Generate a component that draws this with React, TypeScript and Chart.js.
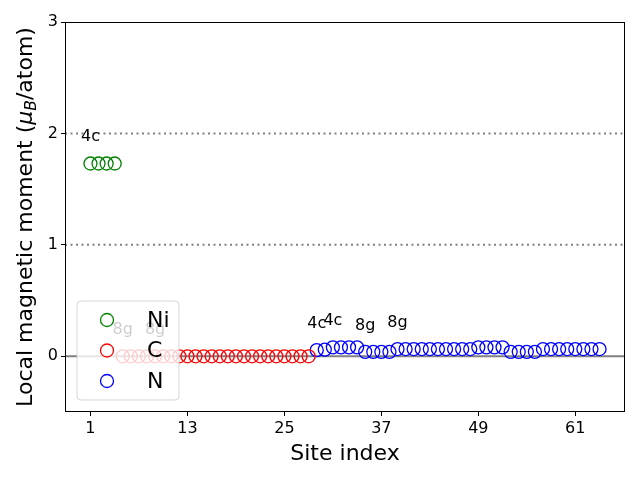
import React, { useEffect, useRef } from "react";
import { Chart, registerables } from "chart.js";

Chart.register(...registerables);

const niSites = [1, 2, 3, 4];
const niMoments = [1.73, 1.73, 1.73, 1.73];

const cSites = [5, 6, 7, 8, 9, 10, 11, 12, 13, 14, 15, 16, 17, 18, 19, 20, 21, 22, 23, 24, 25, 26, 27, 28];
const cMoments = [0, 0, 0, 0, 0, 0, 0, 0, 0, 0, 0, 0, 0, 0, 0, 0, 0, 0, 0, 0, 0, 0, 0, 0];

const nSites = [29, 30, 31, 32, 33, 34, 35, 36, 37, 38, 39, 40, 41, 42, 43, 44, 45, 46, 47, 48, 49, 50, 51, 52, 53, 54, 55, 56, 57, 58, 59, 60, 61, 62, 63, 64];
const nMoments = [
  0.055, 0.06, 0.08, 0.08, 0.08, 0.08, 0.04, 0.04, 0.04, 0.04,
  0.065, 0.065, 0.065, 0.065, 0.065, 0.065, 0.065, 0.065, 0.065, 0.065,
  0.08, 0.08, 0.08, 0.08, 0.04, 0.04, 0.04, 0.04,
  0.065, 0.065, 0.065, 0.065, 0.065, 0.065, 0.065, 0.065,
];

const seriesNames = ["Ni", "C", "N"];
const seriesColors = ["green", "red", "blue"];

const xTicks = [1, 13, 25, 37, 49, 61];
const yTicks = [0, 1, 2, 3];
const xMin = -2.15;
const xMax = 67.15;
const yMin = -0.5;
const yMax = 3;

const wyckoffSites = [1, 5, 9, 29, 31, 35, 39];
const wyckoffLabels = ["4c", "8g", "8g", "4c", "4c", "8g", "8g"];
const labelOffset = 0.235;

const dottedLevels = [1, 2];
const baseLevel = 0;

const xTitle = "Site index";
const yTitleParts = ["Local magnetic moment (", "μ", "B", "/atom)"];

const FONT = "'DejaVu Sans', sans-serif";

function momentAt(site: number): number {
  let i = niSites.indexOf(site);
  if (i >= 0) return niMoments[i];
  i = cSites.indexOf(site);
  if (i >= 0) return cMoments[i];
  i = nSites.indexOf(site);
  if (i >= 0) return nMoments[i];
  return 0;
}

const decorPlugin = {
  id: "decor",
  beforeDatasetsDraw(chart: any) {
    const { ctx, chartArea, scales } = chart;
    const y = scales.y;
    ctx.save();
    ctx.beginPath();
    ctx.rect(chartArea.left, chartArea.top, chartArea.right - chartArea.left, chartArea.bottom - chartArea.top);
    ctx.clip();
    ctx.strokeStyle = "gray";
    ctx.lineWidth = 2;
    ctx.setLineDash([2, 3.5]);
    for (const v of dottedLevels) {
      const py = y.getPixelForValue(v);
      ctx.beginPath();
      ctx.moveTo(chartArea.left, py);
      ctx.lineTo(chartArea.right, py);
      ctx.stroke();
    }
    ctx.setLineDash([]);
    const p0 = y.getPixelForValue(baseLevel);
    ctx.beginPath();
    ctx.moveTo(chartArea.left, p0);
    ctx.lineTo(chartArea.right, p0);
    ctx.stroke();
    ctx.restore();
  },
  afterDatasetsDraw(chart: any) {
    const { ctx, chartArea, scales } = chart;
    const x = scales.x;
    const y = scales.y;
    ctx.save();
    ctx.fillStyle = "#000";
    ctx.font = `16px ${FONT}`;
    ctx.textAlign = "center";
    ctx.textBaseline = "middle";
    wyckoffSites.forEach((s, i) => {
      ctx.fillText(wyckoffLabels[i], x.getPixelForValue(s), y.getPixelForValue(momentAt(s) + labelOffset));
    });
    const bx = chartArea.left + 12;
    const bw = 102;
    const bh = 99;
    const by = chartArea.bottom - 12 - bh;
    const r = 4;
    ctx.beginPath();
    ctx.moveTo(bx + r, by);
    ctx.lineTo(bx + bw - r, by);
    ctx.arcTo(bx + bw, by, bx + bw, by + r, r);
    ctx.lineTo(bx + bw, by + bh - r);
    ctx.arcTo(bx + bw, by + bh, bx + bw - r, by + bh, r);
    ctx.lineTo(bx + r, by + bh);
    ctx.arcTo(bx, by + bh, bx, by + bh - r, r);
    ctx.lineTo(bx, by + r);
    ctx.arcTo(bx, by, bx + r, by, r);
    ctx.closePath();
    ctx.fillStyle = "rgba(255,255,255,0.8)";
    ctx.fill();
    ctx.strokeStyle = "rgba(204,204,204,0.8)";
    ctx.lineWidth = 1;
    ctx.stroke();
    chart.data.datasets.forEach((ds: any, i: number) => {
      const cy = by + 19 + i * 30.5;
      ctx.beginPath();
      ctx.arc(bx + 30, cy, 6.5, 0, Math.PI * 2);
      ctx.strokeStyle = ds.borderColor;
      ctx.lineWidth = 1.3;
      ctx.stroke();
      ctx.fillStyle = "#000";
      ctx.font = `22px ${FONT}`;
      ctx.textAlign = "left";
      ctx.textBaseline = "middle";
      ctx.fillText(ds.label, bx + 70, cy + 1);
    });
    ctx.restore();
  },
  afterDraw(chart: any) {
    const { ctx, chartArea } = chart;
    ctx.save();
    ctx.strokeStyle = "#000";
    ctx.lineWidth = 1;
    ctx.strokeRect(chartArea.left + 0.5, chartArea.top + 0.5, chartArea.right - chartArea.left - 1, chartArea.bottom - chartArea.top - 1);
    const cy = (chartArea.top + chartArea.bottom) / 2;
    const big = `22px ${FONT}`;
    const ital = `italic 22px ${FONT}`;
    const sub = `italic 15.5px ${FONT}`;
    const fonts = [big, ital, sub, big];
    const shifts = [0, 0, 4, 0];
    let total = 0;
    const widths = yTitleParts.map((t, i) => {
      ctx.font = fonts[i];
      const w = ctx.measureText(t).width;
      total += w;
      return w;
    });
    ctx.translate(32, cy);
    ctx.rotate(-Math.PI / 2);
    ctx.fillStyle = "#000";
    ctx.textAlign = "left";
    ctx.textBaseline = "alphabetic";
    let px = -total / 2;
    yTitleParts.forEach((t, i) => {
      ctx.font = fonts[i];
      ctx.fillText(t, px, shifts[i]);
      px += widths[i];
    });
    ctx.restore();
  },
};

export default function App() {
  const ref = useRef<HTMLCanvasElement | null>(null);
  useEffect(() => {
    if (!ref.current) return;
    const mk = (sites: number[], vals: number[]) => sites.map((s, i) => ({ x: s, y: vals[i] }));
    const chart = new Chart(ref.current, {
      type: "scatter",
      data: {
        datasets: [
          { label: seriesNames[0], data: mk(niSites, niMoments), borderColor: seriesColors[0] },
          { label: seriesNames[1], data: mk(cSites, cMoments), borderColor: seriesColors[1] },
          { label: seriesNames[2], data: mk(nSites, nMoments), borderColor: seriesColors[2] },
        ].map((d) => ({
          ...d,
          backgroundColor: "rgba(0,0,0,0)",
          pointRadius: 6.5,
          pointHoverRadius: 6.5,
          pointBorderWidth: 1.3,
          pointStyle: "circle",
          showLine: false,
        })),
      },
      options: {
        animation: false,
        responsive: false,
        events: [],
        layout: { padding: { left: 0, right: 15, top: 22, bottom: 0 } },
        plugins: { legend: { display: false }, tooltip: { enabled: false } },
        scales: {
          x: {
            type: "linear",
            min: xMin,
            max: xMax,
            afterBuildTicks: (s: any) => {
              s.ticks = xTicks.map((v) => ({ value: v }));
            },
            afterFit: (s: any) => {
              s.height = 68;
            },
            grid: { drawOnChartArea: false, drawTicks: true, tickLength: 4, tickColor: "#000", color: "#000" },
            border: { display: false },
            ticks: { color: "#000", font: { family: FONT, size: 16 }, padding: 3, maxRotation: 0, autoSkip: false },
            title: { display: true, text: xTitle, color: "#000", font: { family: FONT, size: 22 }, padding: { top: 0, bottom: 13 } },
          },
          y: {
            type: "linear",
            min: yMin,
            max: yMax,
            afterBuildTicks: (s: any) => {
              s.ticks = yTicks.map((v) => ({ value: v }));
            },
            afterFit: (s: any) => {
              s.width = 65;
            },
            grid: { drawOnChartArea: false, drawTicks: true, tickLength: 4, tickColor: "#000", color: "#000" },
            border: { display: false },
            ticks: { color: "#000", font: { family: FONT, size: 16 }, padding: 3 },
          },
        },
      },
      plugins: [decorPlugin],
    } as any);
    return () => chart.destroy();
  }, []);
  return (
    <div style={{ position: "absolute", left: 0, top: 0, width: 640, height: 480 }}>
      <canvas ref={ref} width={640} height={480} />
    </div>
  );
}
